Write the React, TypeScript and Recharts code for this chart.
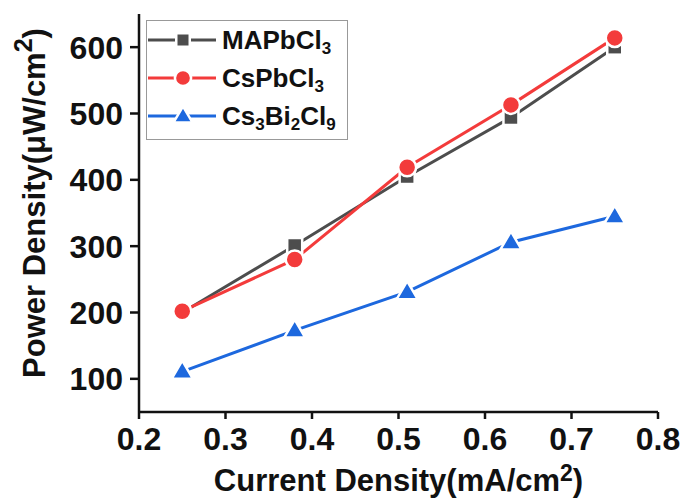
import { LineChart, Line, XAxis, YAxis } from "recharts";

const currentDensity = [0.25, 0.38, 0.51, 0.63, 0.75];
const mapbcl3 = [200, 301, 405, 494, 600];
const cspbcl3 = [202, 280, 419, 513, 614];
const cs3bi2cl9 = [111, 173, 231, 306, 345];

const xTicks = [0.2, 0.3, 0.4, 0.5, 0.6, 0.7, 0.8];
const yTicks = [100, 200, 300, 400, 500, 600];

const FONT = '"Liberation Sans", Arial, sans-serif';
const AXIS = "#111";
const GRAY = "#4d4d4d";
const RED = "#f33b3b";
const BLUE = "#1d68de";

type Marker = "square" | "circle" | "triangle";

const data = currentDensity.map((x, i) => ({
  x,
  ma: mapbcl3[i],
  cs: cspbcl3[i],
  bi: cs3bi2cl9[i],
}));

function MarkerShape({ kind, cx, cy, color, scale = 1 }: { kind: Marker; cx: number; cy: number; color: string; scale?: number }) {
  if (kind === "square") {
    const s = 15 * scale;
    return <rect x={cx - s / 2} y={cy - s / 2} width={s} height={s} fill={color} stroke="#fff" strokeWidth={2.5} />;
  }
  if (kind === "circle") {
    return <circle cx={cx} cy={cy} r={9 * scale} fill={color} stroke="#fff" strokeWidth={2.5} />;
  }
  const w = 21 * scale;
  const h = 18 * scale;
  return (
    <polygon
      points={`${cx},${cy - h * 0.6} ${cx + w / 2},${cy + h * 0.4} ${cx - w / 2},${cy + h * 0.4}`}
      fill={color}
      stroke="#fff"
      strokeWidth={2.5}
    />
  );
}

const dotFor = (kind: Marker, color: string) => (p: { cx?: number; cy?: number; index?: number }) =>
  <MarkerShape key={`${kind}-${p.index}`} kind={kind} cx={p.cx ?? 0} cy={p.cy ?? 0} color={color} />;

const legendRows: { name: string; parts: [string, string][]; color: string; kind: Marker }[] = [
  { name: "MAPbCl3", parts: [["MAPbCl", "3"]], color: GRAY, kind: "square" },
  { name: "CsPbCl3", parts: [["CsPbCl", "3"]], color: RED, kind: "circle" },
  { name: "Cs3Bi2Cl9", parts: [["Cs", "3"], ["Bi", "2"], ["Cl", "9"]], color: BLUE, kind: "triangle" },
];

function ChartLegend() {
  return (
    <div
      style={{
        position: "absolute",
        left: 146,
        top: 20,
        width: 200,
        height: 118,
        border: "1.5px solid #999",
        background: "#fff",
        fontFamily: FONT,
        fontWeight: 700,
        fontSize: 26,
        color: "#111",
      }}
    >
      {legendRows.map((r, i) => (
        <div key={r.name} style={{ position: "absolute", left: 0, top: i * 38, height: 38, display: "flex", alignItems: "center" }}>
          <svg width={70} height={24} style={{ marginLeft: 1 }}>
            <line x1={0} y1={12} x2={68} y2={12} stroke={r.color} strokeWidth={3} />
            <MarkerShape kind={r.kind} cx={35} cy={12} color={r.color} scale={0.9} />
          </svg>
          <span style={{ marginLeft: 4, whiteSpace: "nowrap" }}>
            {r.parts.map(([base, sub]) => (
              <span key={base}>
                {base}
                <sub style={{ fontSize: 17, verticalAlign: -5, lineHeight: 0 }}>{sub}</sub>
              </span>
            ))}
          </span>
        </div>
      ))}
    </div>
  );
}

export default function App() {
  return (
    <div style={{ position: "absolute", left: 0, top: 0, width: 688, height: 501, background: "#fff" }}>
      <LineChart width={688} height={501} data={data} margin={{ top: 14, right: 30, bottom: 0, left: 0 }}>
        <XAxis
          dataKey="x"
          type="number"
          domain={[0.2, 0.8]}
          ticks={xTicks}
          tickFormatter={(v: number) => v.toFixed(1)}
          height={89}
          tick={{ fill: "#111", fontSize: 32, fontWeight: 700, fontFamily: FONT }}
          tickSize={7}
          tickMargin={8}
          axisLine={{ stroke: AXIS, strokeWidth: 2.5 }}
          tickLine={{ stroke: AXIS, strokeWidth: 2.5 }}
          label={(props: { viewBox?: { x: number; y: number; width: number } }) => {
            const vb = props.viewBox ?? { x: 0, y: 0, width: 0 };
            return (
              <text x={vb.x + vb.width / 2} y={vb.y + 79} textAnchor="middle" fill="#111" fontFamily={FONT} fontWeight={700} fontSize={31}>
                Current Density(mA/cm<tspan fontSize={23} dy={-10}>2</tspan>
                <tspan dy={10}>)</tspan>
              </text>
            );
          }}
        />
        <XAxis xAxisId="top" orientation="top" type="number" domain={[0.2, 0.8]} height={0} tick={false} tickLine={false} axisLine={{ stroke: AXIS, strokeWidth: 2.5 }} />
        <YAxis
          type="number"
          domain={[50, 650]}
          ticks={yTicks}
          width={139}
          tick={{ fill: "#111", fontSize: 32, fontWeight: 700, fontFamily: FONT }}
          tickSize={9}
          tickMargin={7}
          axisLine={{ stroke: AXIS, strokeWidth: 2.5 }}
          tickLine={{ stroke: AXIS, strokeWidth: 2.5 }}
          label={(props: { viewBox?: { x: number; y: number; height: number } }) => {
            const vb = props.viewBox ?? { x: 0, y: 0, height: 0 };
            const cx = 45;
            const cy = vb.y + vb.height / 2 - 10;
            return (
              <text x={cx} y={cy} transform={`rotate(-90 ${cx} ${cy})`} textAnchor="middle" fill="#111" fontFamily={FONT} fontWeight={700} fontSize={31}>
                Power Density(μW/cm<tspan fontSize={25} dy={-13}>2</tspan>
                <tspan dy={13}>)</tspan>
              </text>
            );
          }}
        />
        <YAxis yAxisId="right" orientation="right" type="number" domain={[50, 650]} width={0} tick={false} tickLine={false} axisLine={{ stroke: AXIS, strokeWidth: 2.5 }} />
        <Line dataKey="ma" stroke={GRAY} strokeWidth={3} dot={dotFor("square", GRAY)} isAnimationActive={false} />
        <Line dataKey="cs" stroke={RED} strokeWidth={3} dot={dotFor("circle", RED)} isAnimationActive={false} />
        <Line dataKey="bi" stroke={BLUE} strokeWidth={3} dot={dotFor("triangle", BLUE)} isAnimationActive={false} />
      </LineChart>
      <ChartLegend />
    </div>
  );
}
